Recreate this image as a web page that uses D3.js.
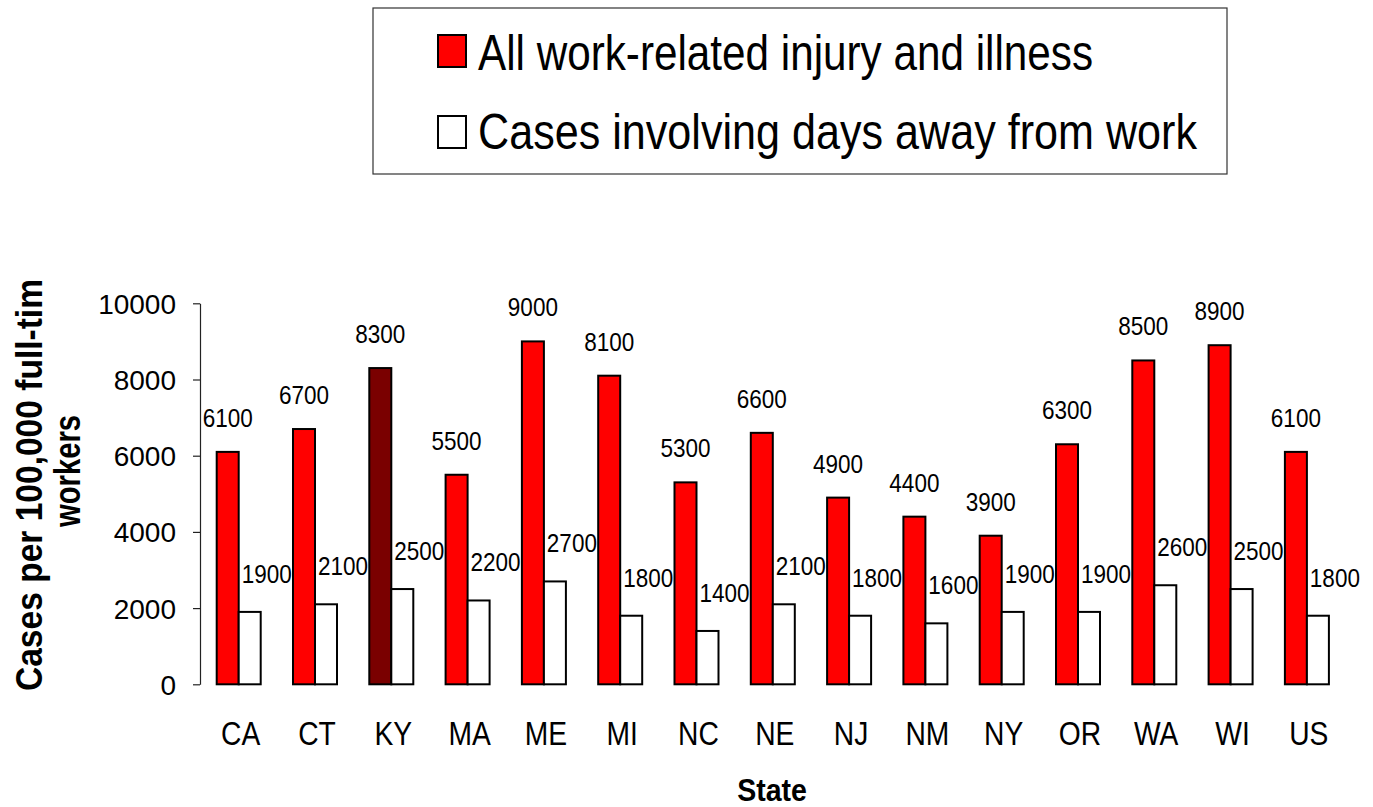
<!DOCTYPE html>
<html>
<head>
<meta charset="utf-8">
<script src="https://cdn.jsdelivr.net/npm/d3@7"></script>
<style>
  html, body { margin: 0; padding: 0; background: #fff; }
  svg { display: block; font-family: Arial, "Liberation Sans", sans-serif; }
</style>
</head>
<body>
<div id="chart"></div>
<script>
// data
const states = ['CA', 'CT', 'KY', 'MA', 'ME', 'MI', 'NC', 'NE', 'NJ', 'NM', 'NY', 'OR', 'WA', 'WI', 'US'];
const allCases = [6100, 6700, 8300, 5500, 9000, 8100, 5300, 6600, 4900, 4400, 3900, 6300, 8500, 8900, 6100];
const awayCases = [1900, 2100, 2500, 2200, 2700, 1800, 1400, 2100, 1800, 1600, 1900, 1900, 2600, 2500, 1800];
const seriesNames = ['All work-related injury and illness', 'Cases involving days away from work'];
const yTicks = [0, 2000, 4000, 6000, 8000, 10000];
const highlightState = 'KY';

const width = 1373, height = 807;

const svg = d3.select('#chart').append('svg')
    .attr('width', width)
    .attr('height', height);

// squeeze text horizontally, the original lettering is narrow
function squeeze(sel, k) {
    sel.each(function () {
        const w = this.getComputedTextLength();
        d3.select(this).attr('textLength', w * k).attr('lengthAdjust', 'spacingAndGlyphs');
    });
}

const x = d3.scaleBand().domain(states).range([200.5, 1345]).padding(0);
const x1 = d3.scaleBand().domain(['all', 'away']).range([16.2, 60.2]).padding(0);
const y = d3.scaleLinear().domain([0, 10000]).range([684.3, 303.3]);

const rows = states.map((s, i) => ({ state: s, all: allCases[i], away: awayCases[i] }));

// y axis
const yAxis = svg.append('g')
    .attr('transform', 'translate(200,0)')
    .call(d3.axisLeft(y).tickValues(yTicks).tickSize(7).tickSizeOuter(0).tickPadding(17).tickFormat(d3.format('d')));
yAxis.select('.domain').attr('stroke', '#222').attr('stroke-width', 1.2);
yAxis.selectAll('.tick line').attr('stroke', '#222').attr('stroke-width', 1.2);
yAxis.selectAll('.tick text')
    .attr('font-size', 28)
    .attr('fill', '#000')
    .attr('font-family', 'Arial, "Liberation Sans", sans-serif')
    .attr('dy', '0.36em');

// bars
const groups = svg.append('g').selectAll('g')
    .data(rows)
    .join('g')
    .attr('transform', d => `translate(${x(d.state)},0)`);

groups.append('rect')
    .attr('x', x1('all'))
    .attr('width', x1.bandwidth())
    .attr('y', d => y(d.all))
    .attr('height', d => y(0) - y(d.all))
    .attr('fill', d => d.state === highlightState ? '#7a0000' : '#ff0000')
    .attr('stroke', '#000')
    .attr('stroke-width', 2);

groups.append('rect')
    .attr('x', x1('away'))
    .attr('width', x1.bandwidth())
    .attr('y', d => y(d.away))
    .attr('height', d => y(0) - y(d.away))
    .attr('fill', '#fff')
    .attr('stroke', '#000')
    .attr('stroke-width', 2);

// value labels
const allLabels = groups.append('text')
    .attr('x', x1('all') + x1.bandwidth() / 2)
    .attr('y', d => y(d.all) - 25)
    .attr('text-anchor', 'middle')
    .attr('font-size', 25)
    .text(d => d.all);
squeeze(allLabels, 0.9);

const awayLabels = groups.append('text')
    .attr('x', x1('away') + x1.bandwidth() / 2 + 17)
    .attr('y', d => y(d.away) - 29)
    .attr('text-anchor', 'middle')
    .attr('font-size', 25)
    .text(d => d.away);
squeeze(awayLabels, 0.9);

// category labels
const catLabels = svg.append('g').selectAll('text')
    .data(states)
    .join('text')
    .attr('x', d => x(d) + x.bandwidth() / 2 + 2)
    .attr('y', 745)
    .attr('text-anchor', 'middle')
    .attr('font-size', 34)
    .text(d => d);
squeeze(catLabels, 0.83);

// axis titles
svg.append('text')
    .attr('x', 772)
    .attr('y', 801)
    .attr('text-anchor', 'middle')
    .attr('font-size', 31)
    .attr('font-weight', 'bold')
    .text('State')
    .call(squeeze, 0.92);

svg.append('text')
    .attr('transform', 'translate(42,485) rotate(-90)')
    .attr('text-anchor', 'middle')
    .attr('font-size', 36)
    .attr('font-weight', 'bold')
    .attr('textLength', 412)
    .attr('lengthAdjust', 'spacingAndGlyphs')
    .text('Cases per 100,000 full-tim');

svg.append('text')
    .attr('transform', 'translate(80,471) rotate(-90)')
    .attr('text-anchor', 'middle')
    .attr('font-size', 36)
    .attr('font-weight', 'bold')
    .attr('textLength', 112)
    .attr('lengthAdjust', 'spacingAndGlyphs')
    .text('workers');

// legend
const legend = svg.append('g');
legend.append('rect')
    .attr('x', 373).attr('y', 8)
    .attr('width', 854).attr('height', 166)
    .attr('fill', '#fff')
    .attr('stroke', '#333')
    .attr('stroke-width', 1.2);

const legendFill = ['#ff0000', '#fff'];
const legendRows = [
    { sw: 35, base: 70, end: 1093 },
    { sw: 116, base: 149, end: 1197 }
];
seriesNames.forEach((name, i) => {
    legend.append('rect')
        .attr('x', 438).attr('y', legendRows[i].sw)
        .attr('width', 28).attr('height', 32)
        .attr('fill', legendFill[i])
        .attr('stroke', '#000')
        .attr('stroke-width', 2);
    legend.append('text')
        .attr('x', 478)
        .attr('y', legendRows[i].base)
        .attr('font-size', 50)
        .attr('textLength', legendRows[i].end - 478)
        .attr('lengthAdjust', 'spacingAndGlyphs')
        .text(name);
});
</script>
</body>
</html>
